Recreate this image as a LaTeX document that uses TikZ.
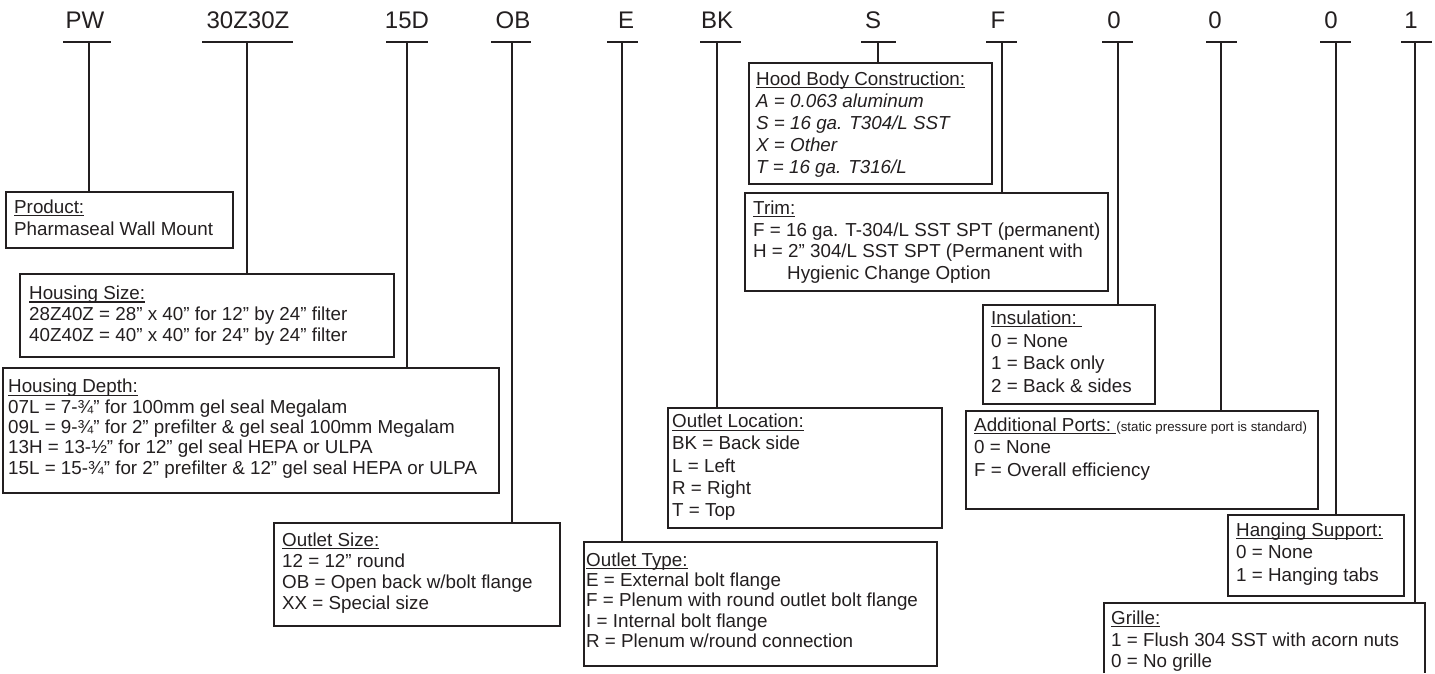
\documentclass[tikz,border=0pt]{standalone}
\usepackage{fontspec}
\setmainfont{Liberation Sans}
\definecolor{ink}{HTML}{231F20}
\newcommand\hdr[1]{\sbox0{#1}\rlap{\rule[-3pt]{\wd0}{1.2pt}}\usebox0}
\newcommand\txtblock[2]{\vtop{\baselineskip=#1pt\lineskiplimit=-1000pt\lineskip=0pt #2}}
\newcommand\myl[1]{\hbox{#1}}
\begin{document}
\begin{tikzpicture}[x=1pt,y=-1pt,
  ttl/.style={font=\fontsize{24}{26}\selectfont, anchor=base, inner sep=0pt, text=ink},
  conn/.style={draw=ink, line width=2pt},
  bx/.style={draw=ink, line width=2.2pt, anchor=north west, inner sep=0pt, outer sep=0pt},
  txt/.style={anchor=base west, inner sep=0pt, text=ink, font=\fontsize{18.8}{20}\selectfont}]
\useasboundingbox (0,0) rectangle (1435,673);
\fill[white] (0,0) rectangle (1435,673);

% ---- code titles ----
\node[ttl] (tPW) at (85,28) {PW};
\node[ttl] (tHS) at (248,28) {30Z30Z};
\node[ttl] (tHD) at (407,28) {15D};
\node[ttl] (tOS) at (513,28) {OB};
\node[ttl] (tOT) at (626,28) {E};
\node[ttl] (tOL) at (717,28) {BK};
\node[ttl] (tHB) at (873,28) {S};
\node[ttl] (tTR) at (998,28) {F};
\node[ttl] (tIN) at (1114,28) {0};
\node[ttl] (tAP) at (1215,28) {0};
\node[ttl] (tHG) at (1331,28) {0};
\node[ttl] (tGR) at (1411,28) {1};

% ---- bar centres ----
\coordinate (cPW) at (89,42);
\coordinate (cHS) at (247,42);
\coordinate (cHD) at (407,42);
\coordinate (cOS) at (512,42);
\coordinate (cOT) at (622,42);
\coordinate (cOL) at (717,42);
\coordinate (cHB) at (878,42);
\coordinate (cTR) at (1002,42);
\coordinate (cIN) at (1118,42);
\coordinate (cAP) at (1221,42);
\coordinate (cHG) at (1336,42);
\coordinate (cGR) at (1415,42);

\draw[conn] ([xshift=-26pt]cPW) -- ([xshift=22pt]cPW);
\draw[conn] ([xshift=-45pt]cHS) -- ([xshift=46pt]cHS);
\draw[conn] ([xshift=-21pt]cHD) -- ([xshift=21pt]cHD);
\draw[conn] ([xshift=-21pt]cOS) -- ([xshift=19pt]cOS);
\draw[conn] ([xshift=-15pt]cOT) -- ([xshift=16pt]cOT);
\draw[conn] ([xshift=-17pt]cOL) -- ([xshift=24pt]cOL);
\draw[conn] ([xshift=-17pt]cHB) -- ([xshift=18pt]cHB);
\draw[conn] ([xshift=-16pt]cTR) -- ([xshift=15pt]cTR);
\draw[conn] ([xshift=-16pt]cIN) -- ([xshift=15pt]cIN);
\draw[conn] ([xshift=-15pt]cAP) -- ([xshift=16pt]cAP);
\draw[conn] ([xshift=-16pt]cHG) -- ([xshift=15pt]cHG);
\draw[conn] ([xshift=-14pt]cGR) -- ([xshift=17pt]cGR);

% ---- boxes ----
\node[bx, minimum width=227pt, minimum height=56pt]  (bPW) at (6,192) {};
\node[bx, minimum width=374pt, minimum height=83pt]  (bHS) at (20,274) {};
\node[bx, minimum width=496pt, minimum height=125pt] (bHD) at (3,368) {};
\node[bx, minimum width=286pt, minimum height=103pt] (bOS) at (274,523) {};
\node[bx, minimum width=353pt, minimum height=124pt] (bOT) at (584,542) {};
\node[bx, minimum width=274pt, minimum height=120pt] (bOL) at (668,408) {};
\node[bx, minimum width=243pt, minimum height=121pt] (bHB) at (749,63) {};
\node[bx, minimum width=363pt, minimum height=98pt]  (bTR) at (745,193) {};
\node[bx, minimum width=172pt, minimum height=99pt]  (bIN) at (983,305) {};
\node[bx, minimum width=352pt, minimum height=98pt]  (bAP) at (966,411) {};
\node[bx, minimum width=176pt, minimum height=81pt]  (bHG) at (1228,515) {};
\coordinate (bGRnw) at (1104,603);
\coordinate (bGRne) at (1425,603);
\draw[draw=ink, line width=2.2pt] (bGRnw |- 0,673) -- (bGRnw) -- (bGRne) -- (bGRne |- 0,673);

% ---- connectors ----
\draw[conn] (cPW) -- (cPW |- bPW.north);
\draw[conn] (cHS) -- (cHS |- bHS.north);
\draw[conn] (cHD) -- (cHD |- bHD.north);
\draw[conn] (cOS) -- (cOS |- bOS.north);
\draw[conn] (cOT) -- (cOT |- bOT.north);
\draw[conn] (cOL) -- (cOL |- bOL.north);
\draw[conn] (cHB) -- (cHB |- bHB.north);
\draw[conn] (cTR) -- (cTR |- bTR.north);
\draw[conn] (cIN) -- (cIN |- bIN.north);
\draw[conn] (cAP) -- (cAP |- bAP.north);
\draw[conn] (cHG) -- (cHG |- bHG.north);
\draw[conn] (cGR) -- (cGR |- bGRnw);

% ---- texts ----
\node[txt] (xPW) at (14,213) {\txtblock{22.7}{%
  \myl{\hdr{Product:}}%
  \myl{Pharmaseal Wall Mount}}};
\node[txt] (xHS) at (29,299.5) {\txtblock{20.8}{%
  \myl{\hdr{Housing Size:}}%
  \myl{28Z40Z = 28” x 40” for 12” by 24” filter}%
  \myl{40Z40Z = 40” x 40” for 24” by 24” filter}}};
\node[txt] (xHD) at (8,392.7) {\txtblock{20.4}{%
  \myl{\hdr{Housing Depth:}}%
  \myl{07L = 7-¾” for 100mm gel seal Megalam}%
  \myl{09L = 9-¾” for 2” prefilter \& gel seal 100mm Megalam}%
  \myl{13H = 13-½” for 12” gel seal HEPA or ULPA}%
  \myl{15L = 15-¾” for 2” prefilter \& 12” gel seal HEPA or ULPA}}};
\node[txt] (xOS) at (282,546) {\txtblock{21.3}{%
  \myl{\hdr{Outlet Size:}}%
  \myl{12 = 12” round}%
  \myl{OB = Open back w/bolt flange}%
  \myl{XX = Special size}}};
\node[txt] (xOT) at (586,566) {\txtblock{20.4}{%
  \myl{\hdr{Outlet Type:}}%
  \myl{E = External bolt flange}%
  \myl{F = Plenum with round outlet bolt flange}%
  \myl{I = Internal bolt flange}%
  \myl{R = Plenum w/round connection}}};
\node[txt] (xOL) at (672,427.7) {\txtblock{22.25}{%
  \myl{\hdr{Outlet Location:}}%
  \myl{BK = Back side}%
  \myl{L = Left}%
  \myl{R = Right}%
  \myl{T = Top}}};
\node[txt] (xHB) at (756,85.3) {\txtblock{22.1}{%
  \myl{\hdr{Hood Body Construction:}}%
  \myl{\itshape A = 0.063 aluminum}%
  \myl{\itshape S = 16 ga. T304/L SST}%
  \myl{\itshape X = Other}%
  \myl{\itshape T = 16 ga. T316/L}}};
\node[txt] (xTR) at (753,214.3) {\txtblock{21.7}{%
  \myl{\hdr{Trim:}}%
  \myl{F = 16 ga. T-304/L SST SPT (permanent)}%
  \myl{H = 2” 304/L SST SPT (Permanent with}%
  \myl{\hspace*{34pt}Hygienic Change Option}}};
\node[txt] (xIN) at (991,324.3) {\txtblock{22.8}{%
  \myl{\hdr{Insulation:\ }}%
  \myl{0 = None}%
  \myl{1 = Back only}%
  \myl{2 = Back \& sides}}};
\node[txt] (xAP) at (974,431) {\txtblock{22.5}{%
  \myl{\hdr{Additional Ports:\ }{\fontsize{13.3}{14}\selectfont(static pressure port is standard)}}%
  \myl{0 = None}%
  \myl{F = Overall efficiency}}};
\node[txt] (xHG) at (1236,536) {\txtblock{22.5}{%
  \myl{\hdr{Hanging Support:}}%
  \myl{0 = None}%
  \myl{1 = Hanging tabs}}};
\node[txt] (xGR) at (1111,624.3) {\txtblock{21.7}{%
  \myl{\hdr{Grille:}}%
  \myl{1 = Flush 304 SST with acorn nuts}%
  \myl{0 = No grille}}};
\end{tikzpicture}
\end{document}
